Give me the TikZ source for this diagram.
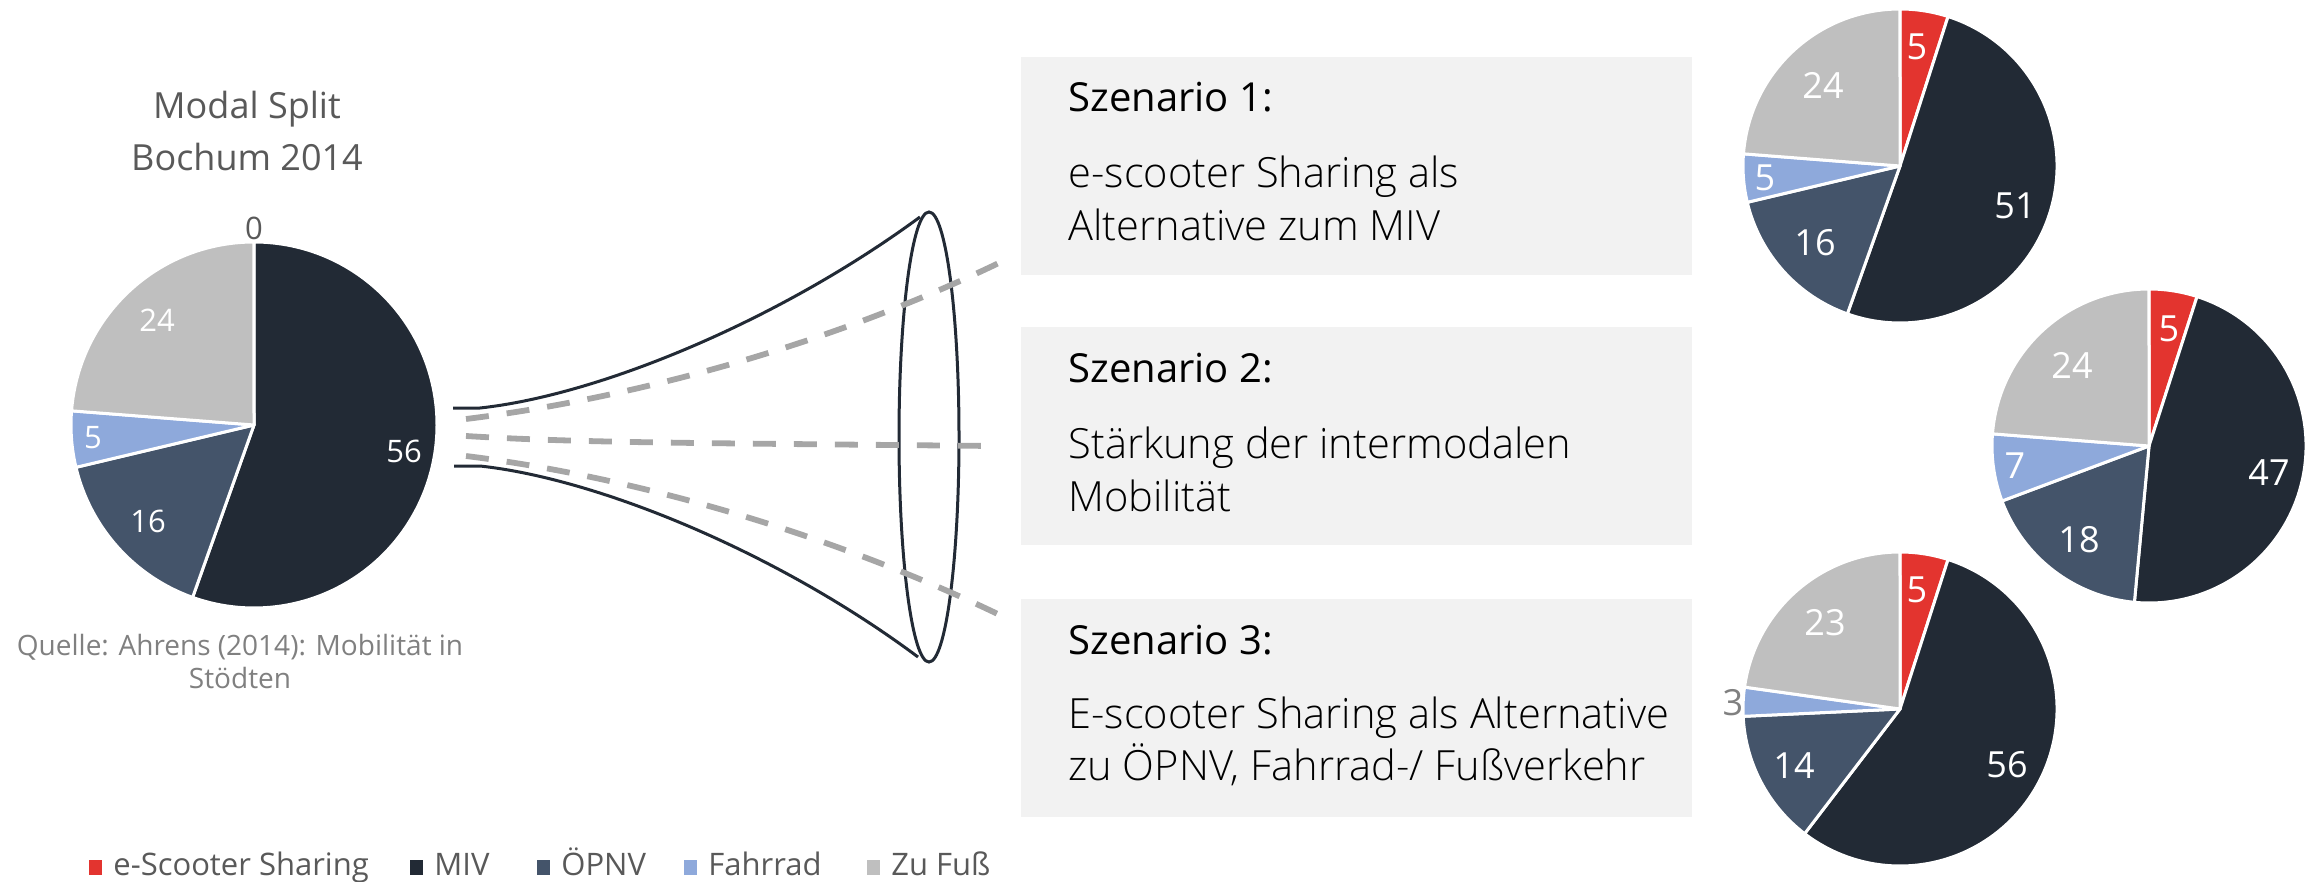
\documentclass[tikz,border=0pt]{standalone}
\usepackage{fontspec}
\setmainfont{Open Sans}
\newfontfamily\lightfont{Open Sans}[UprightFont=* Light]
\usetikzlibrary{positioning}

\definecolor{escoot}{HTML}{E3342F}
\definecolor{miv}{HTML}{222A35}
\definecolor{oepnv}{HTML}{44546A}
\definecolor{rad}{HTML}{8EA9DB}
\definecolor{fuss}{HTML}{BFBFBF}
\definecolor{boxgray}{HTML}{F2F2F2}
\definecolor{dashgray}{HTML}{A6A6A6}
\definecolor{titlegray}{HTML}{595959}
\definecolor{notegray}{HTML}{808080}

\tikzset{slice/.style={draw=white, line width=1.5pt, line join=round}}
\tikzset{bigval/.style={text=white, inner sep=0pt, font=\fontsize{15.5}{18}\selectfont}}
\tikzset{val/.style={text=white, inner sep=0pt, font=\fontsize{18}{21}\selectfont}}
\tikzset{scenbox/.style={fill=boxgray, anchor=north west, minimum width=335.5pt, minimum height=109pt, inner sep=0pt}}
\tikzset{head/.style={anchor=base west, inner sep=0pt, font=\fontsize{20}{24}\selectfont}}
\tikzset{body/.style={anchor=base west, inner sep=0pt, font=\lightfont\fontsize{20.8}{25}\selectfont}}
\tikzset{funnel/.style={draw=miv, line width=1.5pt}}
\tikzset{ray/.style={draw=dashgray, line width=2.9pt, dash pattern=on 11.5pt off 9pt}}
\tikzset{legtext/.style={anchor=base west, inner sep=0pt, text=titlegray, font=\fontsize{15.5}{18}\selectfont}}

% pie: centre x, centre y, radius, value/colour list (sum 101, clockwise from top)
\newcommand{\modalpie}[4]{%
  \begin{scope}[shift={(#1,#2)}]
    \gdef\pieang{-90}
    \foreach \pv/\pc in {#4}{
      \ifnum\pv>0
        \pgfmathsetmacro{\stopang}{\pieang+\pv/101*360}
        \fill[\pc, slice] (0,0) -- (\pieang:#3) arc[start angle=\pieang, end angle=\stopang, radius=#3] -- cycle;
        \global\let\pieang\stopang
      \fi
    }
  \end{scope}}

\begin{document}
\begin{tikzpicture}[x=0.5pt, y=-0.5pt]
\useasboundingbox (0,0) rectangle (2318,882);

% Bochum 2014
\node[anchor=base, inner sep=0pt, text=titlegray, font=\fontsize{18}{22}\selectfont] (title1) at (247,119) {Modal Split};
\node[anchor=base, inner sep=0pt, text=titlegray, font=\fontsize{18}{22}\selectfont] (title2) at (247,171) {Bochum 2014};
\modalpie{254}{425}{183}{0/escoot, 56/miv, 16/oepnv, 5/rad, 24/fuss}
\node[bigval, text=titlegray] (p0a) at (254,228) {0};
\node[bigval] (p0b) at (404,451) {56};
\node[bigval] (p0c) at (148,521) {16};
\node[bigval] (p0d) at (93,438) {5};
\node[bigval] (p0e) at (157,320) {24};
\node[anchor=base, inner sep=0pt, text=notegray, font=\fontsize{14}{16}\selectfont] (src1) at (240,655) {Quelle: Ahrens (2014): Mobilität in};
\node[anchor=base, inner sep=0pt, text=notegray, font=\fontsize{14}{16}\selectfont] (src2) at (240,688) {Stödten};

% funnel
\draw[funnel] (453,408) -- (480,408) .. controls (600,395) and (780,320) .. (920,217);
\draw[funnel] (454,466) -- (480,466) .. controls (600,479) and (780,554) .. (918,657);
\draw[funnel] (929,437) ellipse [x radius=30, y radius=225];

\coordinate (ray1) at (1005,260);
\coordinate (ray2) at (993,446);
\coordinate (ray3) at (1004,617);
\draw[ray] (466,419) .. controls (620,400) and (820,350) .. (ray1);
\draw[ray] (466,436) .. controls (580,443) and (700,443) .. (ray2);
\draw[ray] (466,456) .. controls (620,475) and (820,528) .. (ray3);

% scenarios
\node[scenbox] (box1) at (1021,57) {};
\node[scenbox] (box2) at (1021,327) {};
\node[scenbox] (box3) at (1021,599) {};
\node[head] (h1) at (1068,112) {Szenario 1:};
\node[body] (t1a) at (1068,188) {e-scooter Sharing als};
\node[body] (t1b) at (1068,241) {Alternative zum MIV};
\node[head] (h2) at (1068,382) {Szenario 2:};
\node[body] (t2a) at (1068,458) {Stärkung der intermodalen};
\node[body] (t2b) at (1068,511) {Mobilität};
\node[head] (h3) at (1068,654) {Szenario 3:};
\node[body] (t3a) at (1068,728) {E-scooter Sharing als Alternative};
\node[body] (t3b) at (1068,780) {zu ÖPNV, Fahrrad-/ Fußverkehr};

% scenario pies
\modalpie{1900}{166}{157}{5/escoot, 51/miv, 16/oepnv, 5/rad, 24/fuss}
\node[val] (p1a) at (1917,47) {5};
\node[val] (p1b) at (2015,206) {51};
\node[val] (p1c) at (1815,243) {16};
\node[val] (p1d) at (1765,178) {5};
\node[val] (p1e) at (1823,85) {24};

\modalpie{2149}{446}{157}{5/escoot, 47/miv, 18/oepnv, 7/rad, 24/fuss}
\node[val] (p2a) at (2169,329) {5};
\node[val] (p2b) at (2269,473) {47};
\node[val] (p2c) at (2079,540) {18};
\node[val] (p2d) at (2015,466) {7};
\node[val] (p2e) at (2072,365) {24};

\modalpie{1900}{709}{157}{5/escoot, 56/miv, 14/oepnv, 3/rad, 23/fuss}
\node[val] (p3a) at (1917,590) {5};
\node[val] (p3b) at (2007,765) {56};
\node[val] (p3c) at (1794,766) {14};
\node[val, text=notegray] (p3d) at (1733,703) {3};
\node[val] (p3e) at (1825,623) {23};

% legend
\foreach \kc/\kt/\kx [count=\i] in {escoot/e-Scooter Sharing/89, miv/MIV/410, oepnv/ÖPNV/537, rad/Fahrrad/684, fuss/Zu Fuß/867}{
  \node[fill=\kc, minimum width=6.5pt, minimum height=7.5pt, inner sep=0pt, anchor=south west] (key\i) at (\kx,875) {};
  \node[legtext] (keytext\i) at (\kx+24,875) {\kt};
}
\end{tikzpicture}
\end{document}
